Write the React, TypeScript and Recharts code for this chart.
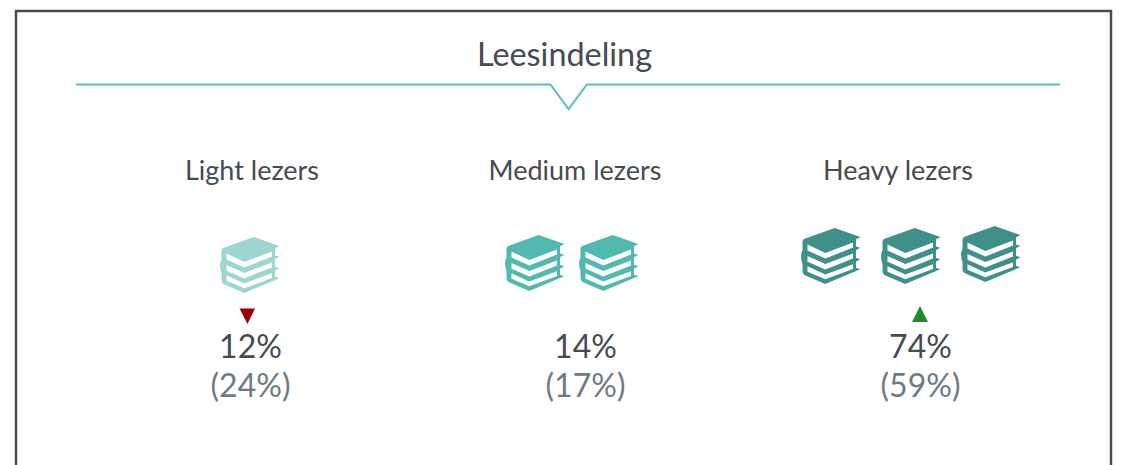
import { Bar, ComposedChart, XAxis, YAxis } from 'recharts';

const title = 'Leesindeling';
const categories = ['Light lezers', 'Medium lezers', 'Heavy lezers'];
const shares = [12, 14, 74];
const previousShares = [24, 17, 59];
const bookCounts = [1, 2, 3];
const trends = ['down', 'none', 'up'];

const rows = categories.map((name, i) => ({
  name,
  share: shares[i],
  previous: previousShares[i],
  books: bookCounts[i],
  trend: trends[i],
}));

const TEXT = '#454b50';
const MUTED = '#6f7b83';
const RULE = '#5bbfb5';
const BOOK_COLORS = ['#9dd6d1', '#52b9b1', '#3f908b'];
const FONT = 'Lato, sans-serif';

// icon placement per column: left edge relative to the column centre, and top
const BOOK_SLOTS = [
  [{ dx: -32, top: 237 }],
  [{ dx: -70, top: 235 }, { dx: 4, top: 235 }],
  [{ dx: -97, top: 228 }, { dx: -17, top: 228 }, { dx: 63, top: 226 }],
];

const BOOK_OUTLINE =
  'M3 11L33.7 0L59.3 9L55 11.5V18.5L59.3 19.7L55 22.3V29.7L59.3 31.3L55 33.7V39.7L59.3 41.3L24.3 56L4.5 47.5Q1.5 46 1.5 43.5V36Q0 32 0 28.5Q0 25 1.5 22.5V14Q1.5 12 3 11Z';
const BOOK_PAGES = [
  'M6.5 16.6L24.3 25L52 14.6V19.6L24.3 30.6L6.5 22.4Z',
  'M6.5 28L24.3 36L52 25.6V30.6L24.3 41.4L6.5 33.8Z',
  'M6.5 38.2L24.3 46.4L52 36.2V41L24.3 51.2L6.5 43.8Z',
];

function Book({ x, y, color }: { x: number; y: number; color: string }) {
  return (
    <g transform={`translate(${x},${y})`}>
      <path d={BOOK_OUTLINE} fill={color} />
      {BOOK_PAGES.map((d) => (
        <path key={d} d={d} fill="#fff" />
      ))}
    </g>
  );
}

function BooksShape(props: any) {
  const { x, width, index } = props;
  const cx = x + width / 2;
  return (
    <g>
      {BOOK_SLOTS[index].map((slot, i) => (
        <Book key={i} x={cx + slot.dx} y={slot.top} color={BOOK_COLORS[index]} />
      ))}
    </g>
  );
}

function ValueShape(props: any) {
  const { x, width, payload } = props;
  const cx = x + width / 2;
  return (
    <g fontFamily={FONT} textAnchor="middle">
      {payload.trend === 'down' && (
        <path d={`M${cx - 11} 308.5H${cx + 4.5}L${cx - 3} 324Z`} fill="#990009" />
      )}
      {payload.trend === 'up' && (
        <path d={`M${cx - 8.5} 322H${cx + 7.5}L${cx - 0.5} 306Z`} fill="#1e8a2e" />
      )}
      <text x={cx} y={358} fontSize={32} fill={TEXT}>
        {payload.share}%
      </text>
      <text x={cx} y={397} fontSize={32} fill={MUTED}>
        ({payload.previous}%)
      </text>
    </g>
  );
}

function HeadTick({ x, payload }: any) {
  return (
    <text x={x} y={180} textAnchor="middle" fontFamily={FONT} fontSize={27} fill={TEXT}>
      {payload.value}
    </text>
  );
}

export default function App() {
  return (
    <div style={{ position: 'absolute', left: 0, top: 0, width: 1122, height: 465, background: '#fff' }}>
      <ComposedChart
        width={1122}
        height={465}
        data={rows}
        barCategoryGap={0}
        margin={{ top: 0, right: 34, bottom: 0, left: 83 }}
      >
        <rect x={16} y={11} width={1095} height={480} fill="none" stroke="#474c50" strokeWidth={2.5} />
        <text x={564.5} y={66} textAnchor="middle" fontFamily={FONT} fontSize={32.4} fill={TEXT}>
          {title}
        </text>
        <path d="M76 84.5H550.5L568.5 109L587 84.5H1060" fill="none" stroke={RULE} strokeWidth={2} />
        <XAxis
          xAxisId="head"
          dataKey="name"
          orientation="top"
          height={1}
          axisLine={false}
          tickLine={false}
          interval={0}
          padding={{ left: 7.5, right: 28.5 }}
          tick={HeadTick}
        />
        <XAxis xAxisId="value" dataKey="name" hide />
        <YAxis yAxisId="left" hide domain={[0, 100]} />
        <Bar xAxisId="head" yAxisId="left" dataKey="books" shape={BooksShape} isAnimationActive={false} />
        <Bar xAxisId="value" yAxisId="left" dataKey="share" shape={ValueShape} isAnimationActive={false} />
      </ComposedChart>
    </div>
  );
}
